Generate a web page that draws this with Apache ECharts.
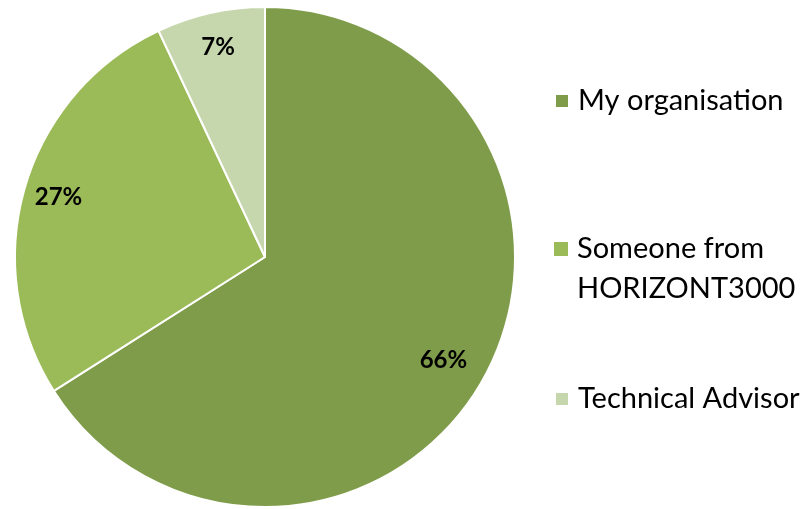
<!DOCTYPE html>
<html>
<head>
<meta charset="utf-8">
<script src="https://cdn.jsdelivr.net/npm/echarts@6/dist/echarts.min.js"></script>
<style>
  html, body { margin: 0; padding: 0; background: #fff; }
  #chart { width: 808px; height: 509px; }
</style>
</head>
<body>
<div id="chart"></div>
<script>
// data
const categories = ['My organisation', 'Someone from\nHORIZONT3000', 'Technical Advisor']
const shares = [66, 27, 7]
const colors = ['#7F9C4A', '#9BBB59', '#C6D7AE']

const FONT = 'Lato'

const pieData = categories.map((name, i) => ({
  name: name,
  value: shares[i],
  itemStyle: { color: colors[i] }
}))

// square drawn at the top of a tall icon so it lines up with the first text line
function topSquareIcon (color) {
  const svg = "<svg xmlns='http://www.w3.org/2000/svg' width='14' height='54'>" +
    "<rect x='0' y='0' width='14' height='14' fill='" + color + "'/></svg>"
  return 'image://data:image/svg+xml;charset=utf-8,' + encodeURIComponent(svg)
}

// one legend per item so each can be placed like the reference
function legendFor (i, top, tall) {
  return {
    data: [{ name: categories[i], icon: tall ? topSquareIcon(colors[i]) : 'rect' }],
    orient: 'vertical',
    left: 554,
    top: top,
    padding: 0,
    itemWidth: 14,
    itemHeight: tall ? 54 : 14,
    itemGap: 0,
    selectedMode: false,
    textStyle: {
      fontFamily: FONT,
      fontSize: 29,
      color: '#000',
      lineHeight: 40,
      padding: [0, 0, 0, 4]
    }
  }
}

const chart = echarts.init(document.getElementById('chart'))
chart.setOption({
  animation: false,
  backgroundColor: '#fff',
  legend: [
    legendFor(0, 81),
    legendFor(1, 229, true),
    legendFor(2, 379)
  ],
  series: [
    {
      type: 'pie',
      center: [265, 257],
      radius: [0, 250],
      startAngle: 90,
      clockwise: true,
      silent: true,
      label: { show: false },
      labelLine: { show: false },
      itemStyle: { borderColor: '#fff', borderWidth: 2 },
      data: pieData
    },
    {
      // transparent ring only used to place the percentage labels
      type: 'pie',
      center: [265, 257],
      radius: [174, 250],
      startAngle: 90,
      clockwise: true,
      silent: true,
      itemStyle: { color: 'rgba(0,0,0,0)', borderWidth: 0 },
      label: {
        show: true,
        position: 'inside',
        formatter: '{c}%',
        fontFamily: FONT,
        fontWeight: 'bold',
        fontSize: 24,
        color: '#000'
      },
      labelLine: { show: false },
      data: pieData.map((d, i) => ({
        name: d.name,
        value: d.value,
        label: i === 0 ? { padding: [8, 20, 0, 0] } : {}
      }))
    }
  ]
})
</script>
</body>
</html>
